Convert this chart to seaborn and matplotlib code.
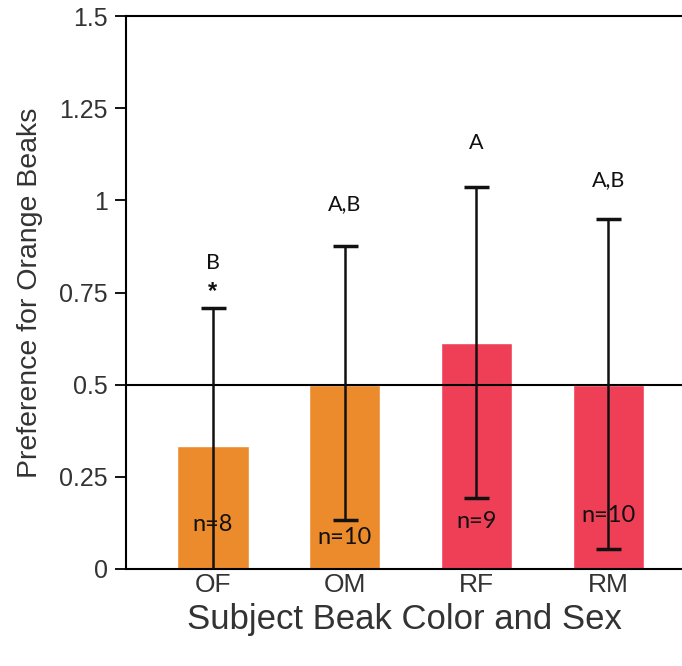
import matplotlib
matplotlib.use("Agg")
import matplotlib.pyplot as plt
import seaborn as sns
import pandas as pd
import numpy as np

categories = ["OF", "OM", "RF", "RM"]
means = [0.334, 0.50, 0.613, 0.50]
upper = [0.708, 0.876, 1.036, 0.949]
lower = [-0.05, 0.133, 0.193, 0.054]
letters = ["B", "A,B", "A", "A,B"]
letter_y = [0.83, 0.989, 1.156, 1.054]
n_labels = ["n=8", "n=10", "n=9", "n=10"]
n_y = [0.12, 0.085, 0.13, 0.145]
colors = ["#EC8B2C", "#EC8B2C", "#EF3F56", "#EF3F56"]

sns.set_theme(style="white")
plt.rcParams["font.family"] = ["Liberation Sans", "DejaVu Sans"]

fig = plt.figure(figsize=(6.82, 6.66), dpi=100)
ax = fig.add_axes([126/682, 97/666, 556/682, 553/666])

df = pd.DataFrame({"cat": categories, "val": means})
sns.barplot(data=df, x="cat", y="val", hue="cat", palette=colors, legend=False,
            width=0.54, ax=ax, saturation=1)

x = np.arange(len(categories))
m = np.array(means)
yerr = [m - np.array(lower), np.array(upper) - m]
ax.errorbar(x, m, yerr=yerr, fmt="none", ecolor="#111111", elinewidth=1.8,
            capsize=9, capthick=2.5, zorder=5)

ax.axhline(0.5, color="black", lw=1.5, zorder=4)

for i in range(len(categories)):
    ax.text(x[i], letter_y[i], letters[i], ha="center", va="center",
            fontsize=15.5, family=["Lato", "DejaVu Sans"], color="#111111")
    ax.text(x[i], n_y[i], n_labels[i], ha="center", va="center",
            fontsize=17, family=["Lato", "DejaVu Sans"], color="#111111", zorder=6)
ax.text(x[0], 0.752, "*", ha="center", va="center", fontsize=17,
        fontweight="bold", color="#111111")

ax.set_xlim(-0.66, 3.56)
ax.set_ylim(0, 1.5)
ax.set_yticks([0, 0.25, 0.5, 0.75, 1, 1.25, 1.5])
ax.set_yticklabels(["0", "0.25", "0.5", "0.75", "1", "1.25", "1.5"])
ax.tick_params(axis="y", which="both", left=True, length=8, width=1.3, labelsize=18,
               colors="black", pad=5)
ax.tick_params(axis="y", labelcolor="#333333")
ax.tick_params(axis="x", bottom=False, labelsize=19, labelcolor="#333333", pad=-3)

ax.spines["right"].set_visible(False)
for s in ["left", "top", "bottom"]:
    ax.spines[s].set_visible(True)
    ax.spines[s].set_color("black")
    ax.spines[s].set_linewidth(1.5)

ax.set_xlabel("Subject Beak Color and Sex", fontsize=25, color="#333333", labelpad=4)
ax.set_ylabel("Preference for Orange Beaks", fontsize=20.5, color="#333333", labelpad=12)

fig.savefig("out.png", dpi=100)
